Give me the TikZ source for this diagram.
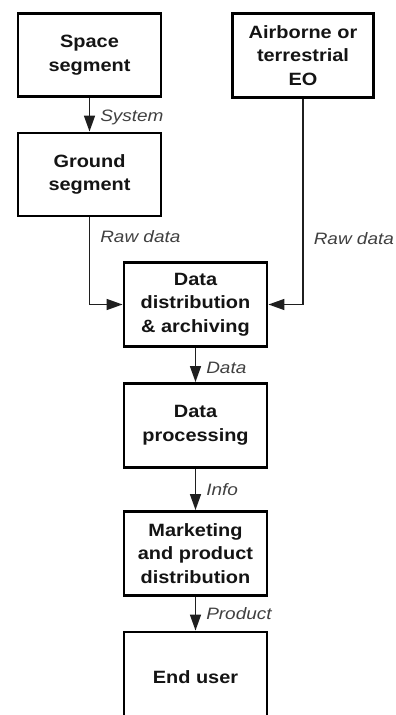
\documentclass[tikz,border=0pt]{standalone}
\usepackage{fontspec}
\setmainfont{Liberation Sans}
\newfontfamily\boxfont[FakeStretch=1.12]{Liberation Sans Bold}
\newfontfamily\lblfont[FakeStretch=1.15]{Liberation Sans Italic}
\usetikzlibrary{arrows.meta}
\begin{document}
\begin{tikzpicture}[x=1pt,y=-1pt,
  stage/.style={draw=black,line width=2.9pt,fill=white,minimum width=143pt,minimum height=83pt,
    inner sep=0pt,align=center,font=\boxfont\fontsize{17.8}{23.5}\selectfont,text=black!92},
  flow/.style={line width=1.5pt,draw=black!88,-{Triangle[length=16pt,width=11pt]}},
  lbl/.style={font=\lblfont\fontsize{16.5}{19}\selectfont,text=black!75,anchor=west,inner sep=0pt}]
\useasboundingbox (0,0) rectangle (396,715);
\node[stage] (space) at (89.5,55) {Space\\segment};
\node[stage] (ground) at (89.5,174.5) {Ground\\segment};
\node[stage,minimum width=141pt,minimum height=84pt] (air) at (303,55.5) {Airborne or\\terrestrial\\EO};
\node[stage,minimum height=84pt] (dist) at (195.5,304.5) {Data\\distribution\\\& archiving};
\node[stage,minimum height=84pt] (proc) at (195.5,425.5) {Data\\processing};
\node[stage,minimum height=84pt] (mkt) at (195.5,553.5) {Marketing\\and product\\distribution};
\node[stage,minimum height=90pt] (end) at (195.5,677) {End user};
\draw[flow] (space) -- (ground) node[lbl,midway,xshift=10pt,yshift=-3pt] (lsys) {System};
\draw[flow] (ground.south) |- (dist.west) node[lbl,pos=0.11,xshift=10pt] (lraw1) {Raw data};
\draw[flow] (air.south) |- (dist.east) node[lbl,pos=0.34,xshift=10pt] (lraw2) {Raw data};
\draw[flow] (dist) -- (proc) node[lbl,midway,xshift=10pt,yshift=-3pt] (ldata) {Data};
\draw[flow] (proc) -- (mkt) node[lbl,midway,xshift=10pt] (linfo) {Info};
\draw[flow] (mkt) -- (end) node[lbl,midway,xshift=10pt] (lprod) {Product};
\end{tikzpicture}
\end{document}
